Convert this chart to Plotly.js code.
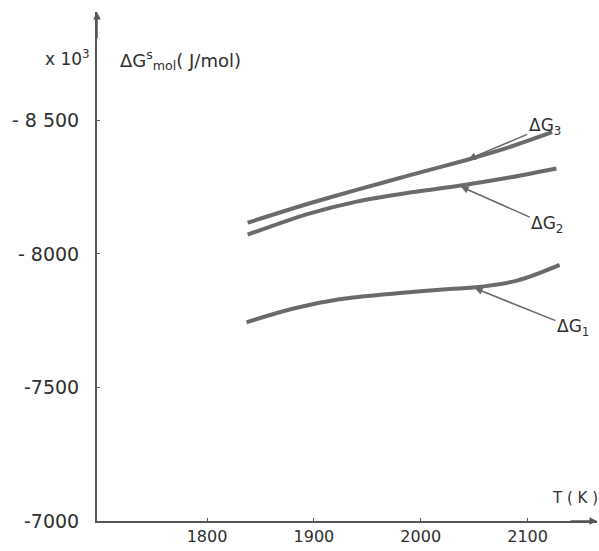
<!DOCTYPE html>
<html><head><meta charset="utf-8">
<script src="https://cdn.plot.ly/plotly-3.0.1.min.js"></script>
<style>html,body{margin:0;padding:0;background:#fff}#chart{width:599px;height:551px}</style>
</head><body><div id="chart"></div>
<script>
// Temperature (K) and ΔG (x10^3 J/mol)
const T_G3 = [1838, 1893, 1940, 1990, 2043, 2083, 2123];
const G3   = [-8117, -8186, -8240, -8295, -8352, -8400, -8456];
const T_G2 = [1838, 1893, 1940, 1990, 2036, 2083, 2127];
const G2   = [-8072, -8148, -8196, -8230, -8255, -8286, -8320];
const T_G1 = [1837, 1880, 1924, 1978, 2027, 2049, 2090, 2130];
const G1   = [-7744, -7795, -7830, -7853, -7869, -7874, -7900, -7959];
const xTicks = [1800, 1900, 2000, 2100];
const xTickText = ['1800', '1900', '2000', '2100'];
const yTicks = [-8500, -8000, -7500, -7000];
const yTickText = ['- 8 500', '- 8000', '-7500', '-7000'];

const lineStyle = {color: '#6a6a6a', width: 4, shape: 'spline', smoothing: 0.6};
const lineStyle1 = {color: '#6a6a6a', width: 4, shape: 'spline', smoothing: 1.0};
const traces = [
  {x: T_G3, y: G3, mode: 'lines', line: lineStyle, name: 'ΔG3'},
  {x: T_G2, y: G2, mode: 'lines', line: lineStyle, name: 'ΔG2'},
  {x: T_G1, y: G1, mode: 'lines', line: lineStyle1, name: 'ΔG1'}
];
const fontFam = 'DejaVu Sans, sans-serif';
const txt = '#2e2e2e';
const layout = {
  width: 599, height: 551,
  margin: {l: 97, r: 2, t: 12, b: 30},
  paper_bgcolor: '#fff', plot_bgcolor: '#fff',
  showlegend: false,
  font: {family: fontFam, color: txt},
  xaxis: {range: [1697, 2165], showgrid: false, zeroline: false,
    showline: true, linecolor: '#555', linewidth: 2,
    tickvals: xTicks, ticktext: xTickText, ticks: 'inside', ticklen: 3,
    tickcolor: '#555', tickfont: {size: 16, family: fontFam, color: txt}},
  yaxis: {range: [-7000, -8906], showgrid: false, zeroline: false,
    showline: true, linecolor: '#555', linewidth: 2,
    tickvals: yTicks, ticktext: yTickText, ticks: 'inside', ticklen: 3,
    tickcolor: '#555', ticklabelstandoff: 12,
    tickfont: {size: 19, family: fontFam, color: txt}},
  annotations: [
    {xref: 'paper', yref: 'paper', x: 1.0, y: 0, ax: -28, ay: 0,
     showarrow: true, arrowhead: 2, arrowsize: 1, arrowwidth: 1.5, arrowcolor: '#555', text: ''},
    {xref: 'paper', yref: 'paper', x: 0, y: 1.0, ax: 0, ay: 28,
     showarrow: true, arrowhead: 2, arrowsize: 1, arrowwidth: 1.5, arrowcolor: '#555', text: ''},
    {xref: 'paper', yref: 'paper', x: -0.06, y: 0.91, xanchor: 'center', yanchor: 'middle',
     showarrow: false, text: 'x 10<sup>3</sup>', font: {size: 17, family: fontFam, color: txt}},
    {xref: 'paper', yref: 'paper', x: 0.042, y: 0.905, xanchor: 'left', yanchor: 'middle',
     showarrow: false, text: 'ΔG<sup>s</sup><sub>mol</sub>( J/mol)', font: {size: 18, family: fontFam, color: txt}},
    {xref: 'paper', yref: 'paper', x: 0.955, y: 0.045, xanchor: 'center', yanchor: 'middle',
     showarrow: false, text: 'T ( K )', font: {size: 15, family: fontFam, color: txt}},
    {x: T_G3[4], y: G3[4], ax: 78, ay: -33, showarrow: true, arrowhead: 2, arrowsize: 1,
     arrowwidth: 1.5, arrowcolor: '#666', standoff: 2,
     text: 'ΔG<sub>3</sub>', font: {size: 17, family: fontFam, color: txt}},
    {x: T_G2[4], y: G2[4], ax: 88, ay: 39, showarrow: true, arrowhead: 2, arrowsize: 1,
     arrowwidth: 1.5, arrowcolor: '#666', standoff: 2,
     text: 'ΔG<sub>2</sub>', font: {size: 17, family: fontFam, color: txt}},
    {x: T_G1[5], y: G1[5], ax: 100, ay: 40, showarrow: true, arrowhead: 2, arrowsize: 1,
     arrowwidth: 1.5, arrowcolor: '#666', standoff: 2,
     text: 'ΔG<sub>1</sub>', font: {size: 17, family: fontFam, color: txt}}
  ]
};
Plotly.newPlot('chart', traces, layout, {staticPlot: true, displayModeBar: false});
</script></body></html>
